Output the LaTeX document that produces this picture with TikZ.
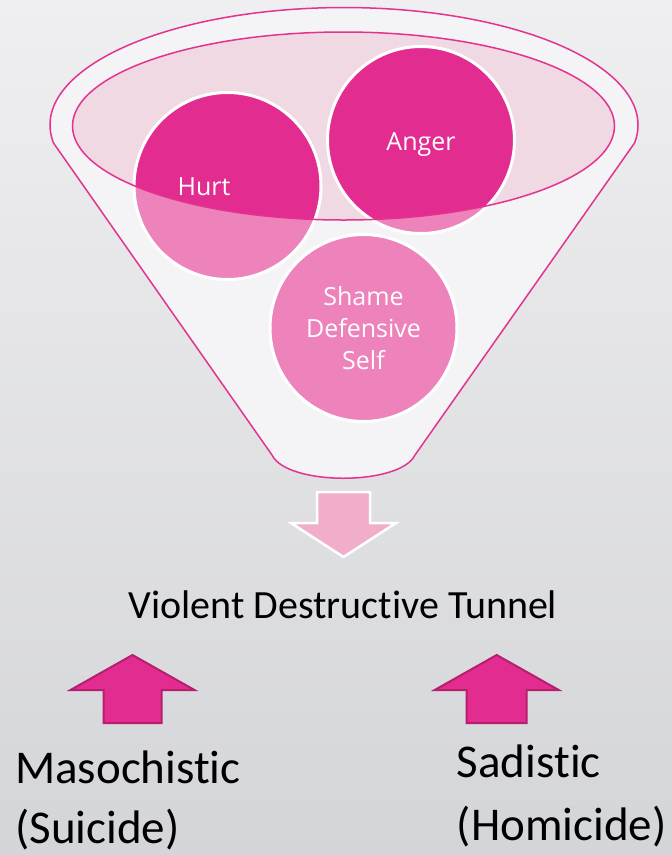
\documentclass[tikz,border=0pt]{standalone}
\usepackage{fontspec}
\usetikzlibrary{shapes.geometric}
\newfontfamily\bubblefont{Open Sans}
\newfontfamily\captionfont[Ligatures=NoCommon]{Carlito}
\definecolor{bgtop}{HTML}{EFEFF1}
\definecolor{bgbottom}{HTML}{D4D5D8}
\definecolor{funnelline}{HTML}{E2338F}
\definecolor{funnelbody}{HTML}{F4F4F6}
\definecolor{rimfill}{HTML}{F0D9E3}
\definecolor{hotpink}{HTML}{E22C8F}
\definecolor{softpink}{HTML}{EE82BB}
\definecolor{palepink}{HTML}{F0AECB}
\definecolor{arrowedge}{HTML}{B51F6E}
\def\bubblerad{93.5pt}

\begin{document}
\begin{tikzpicture}[x=1pt,y=-1pt]
    \tikzstyle{bubble}=[circle,fill=softpink,minimum size=2*\bubblerad,inner sep=0pt]
    \tikzstyle{rim}=[ellipse,fill=rimfill,minimum width=542pt,minimum height=188pt,inner sep=0pt]
    \tikzstyle{bubble text}=[text=white,font=\bubblefont\fontsize{25}{32}\selectfont,align=center,inner sep=0pt]
    \tikzstyle{short text}=[bubble text,text height=18pt,text depth=0pt]
    \tikzstyle{caption}=[font=\captionfont\fontsize{47}{56}\selectfont,anchor=base west,inner sep=0pt]
    \tikzstyle{uparrow}=[fill=hotpink,draw=arrowedge,line width=2pt,line join=miter]
    \tikzstyle{downarrow}=[fill=palepink,draw=white,line width=2.5pt,line join=miter]

    % Background
    \useasboundingbox (0,0) rectangle (672,855);
    \shade[top color=bgtop,bottom color=bgbottom] (0,0) rectangle (672,855);

    % Funnel body
    \draw[fill=funnelbody,draw=funnelline,line width=1.5pt]
        (53.5,143) arc[start angle=171.2,end angle=368.8,x radius=294,y radius=117.5]
        -- (415,455) .. controls (400,486) and (287,486) .. (272,455) -- cycle;

    % Rim of the funnel
    \node[rim] (rim) at (343.5,126) {};

    % Draw the bubbles
    \node[bubble] (hurt) at (227.5,186) {};
    \node[bubble] (anger) at (421,140) {};
    \node[bubble] (shame) at (363.5,328) {};

    % Darker where the bubbles sit inside the rim
    \begin{scope}
        \clip (rim.center) ellipse [x radius=271pt,y radius=94pt];
        \foreach \name in {hurt,anger,shame}
            \fill[hotpink] (\name.center) circle[radius=\bubblerad];
    \end{scope}
    \foreach \name in {hurt,anger,shame}
        \draw[white,line width=3pt] (\name.center) circle[radius=\bubblerad];
    \draw[funnelline,line width=1.5pt] (rim.center) ellipse [x radius=271pt,y radius=94pt];

    % Annotate the bubbles
    \node[short text,xshift=-23.5pt] (hurt-label) at (hurt.center) {Hurt};
    \node[short text,yshift=-1pt] (anger-label) at (anger.center) {Anger};
    \node[bubble text] (shame-label) at (shame.center) {Shame\\Defensive\\Self};

    % Arrow out of the funnel
    \draw[downarrow] (317,492) -- (370,492) -- (370,523) -- (396,523) -- (343.5,557)
        -- (291,523) -- (317,523) -- cycle;

    \node[font=\captionfont\fontsize{40}{48}\selectfont,anchor=base,inner sep=0pt] (tunnel) at (343,618) {Violent Destructive Tunnel};

    % Arrows into the tunnel
    \foreach \cx/\sw in {132.5/29,496.7/30}
        \draw[uparrow] (\cx-\sw,723) -- (\cx-\sw,690) -- (\cx-62,690) -- (\cx,655)
            -- (\cx+62,690) -- (\cx+\sw,690) -- (\cx+\sw,723) -- cycle;

    \node[caption] (maso) at (15,783) {Masochistic};
    \node[caption] (suicide) at (15,843) {(Suicide)};
    \node[caption] (sadi) at (456.7,777) {Sadistic};
    \node[caption] (homicide) at (456.7,840) {(Homicide)};
\end{tikzpicture}
\end{document}
